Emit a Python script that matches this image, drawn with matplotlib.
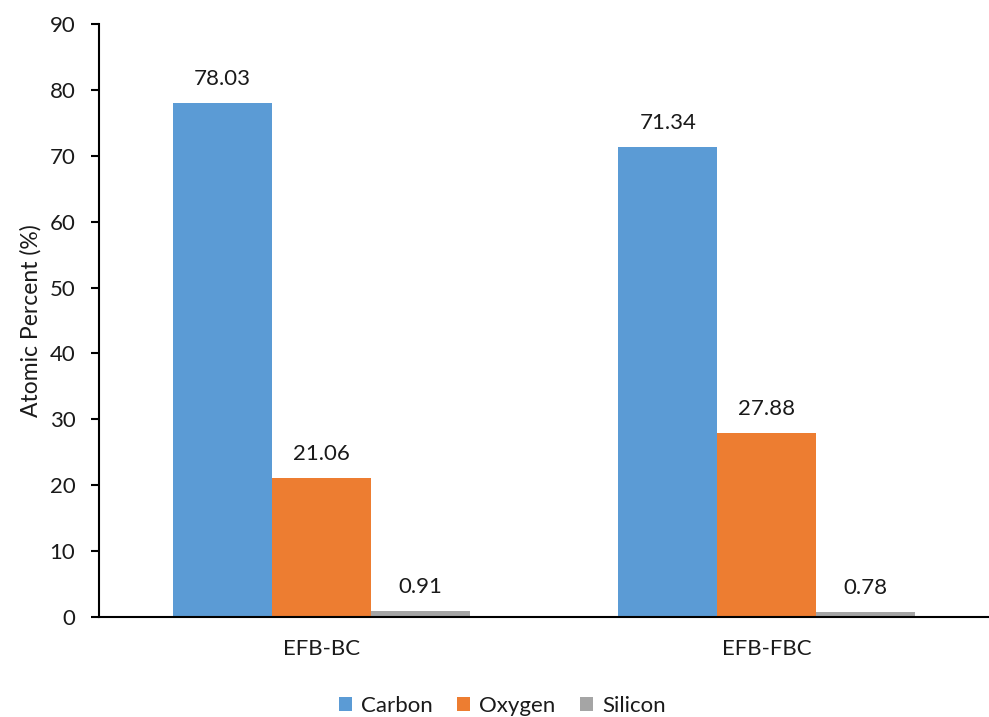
import numpy as np
import matplotlib.pyplot as plt

plt.rcParams['font.family'] = ['Lato', 'DejaVu Sans']

samples = ['EFB-BC', 'EFB-FBC']
elements = ['Carbon', 'Oxygen', 'Silicon']
carbon = [78.03, 71.34]
oxygen = [21.06, 27.88]
silicon = [0.91, 0.78]
colors = ['#5B9BD5', '#ED7D31', '#A5A5A5']

fig = plt.figure(figsize=(9.89, 7.17), dpi=100)
ax = fig.add_axes([0.1001, 0.1395, 0.8999, 0.827])

x = np.arange(len(samples))
w = 0.222
for i, (vals, name) in enumerate(zip([carbon, oxygen, silicon], elements)):
    pos = x + (i - 1) * w
    ax.bar(pos, vals, width=w, color=colors[i], label=name)
    for p, v in zip(pos, vals):
        ax.annotate(f'{v:.2f}', (p, v), xytext=(0, 10), textcoords='offset points',
                    ha='center', va='bottom', fontsize=16, color='#1a1a1a')

ax.set_xlim(-0.5, 1.5)
ax.set_ylim(0, 90)
ax.set_yticks(range(0, 91, 10))
ax.set_xticks(x)
ax.set_xticklabels(samples)
ax.tick_params(axis='y', direction='out', length=6, width=1.5, labelsize=16, pad=11,
               labelcolor='#1a1a1a')
ax.tick_params(axis='x', length=0, labelsize=16, pad=16, labelcolor='#1a1a1a')
for s in ['top', 'right']:
    ax.spines[s].set_visible(False)
ax.spines['left'].set_linewidth(1.5)
ax.spines['bottom'].set_linewidth(1.5)
ax.set_ylabel('Atomic Percent (%)', fontsize=16.5, labelpad=6, color='#1a1a1a')

ax.legend(loc='upper center', bbox_to_anchor=(0.453, -0.1), ncol=3, frameon=False,
          fontsize=16, handlelength=0.6, handleheight=0.6, handletextpad=0.4,
          columnspacing=1.1, labelcolor='#1a1a1a')

fig.savefig('out.png', dpi=100)
